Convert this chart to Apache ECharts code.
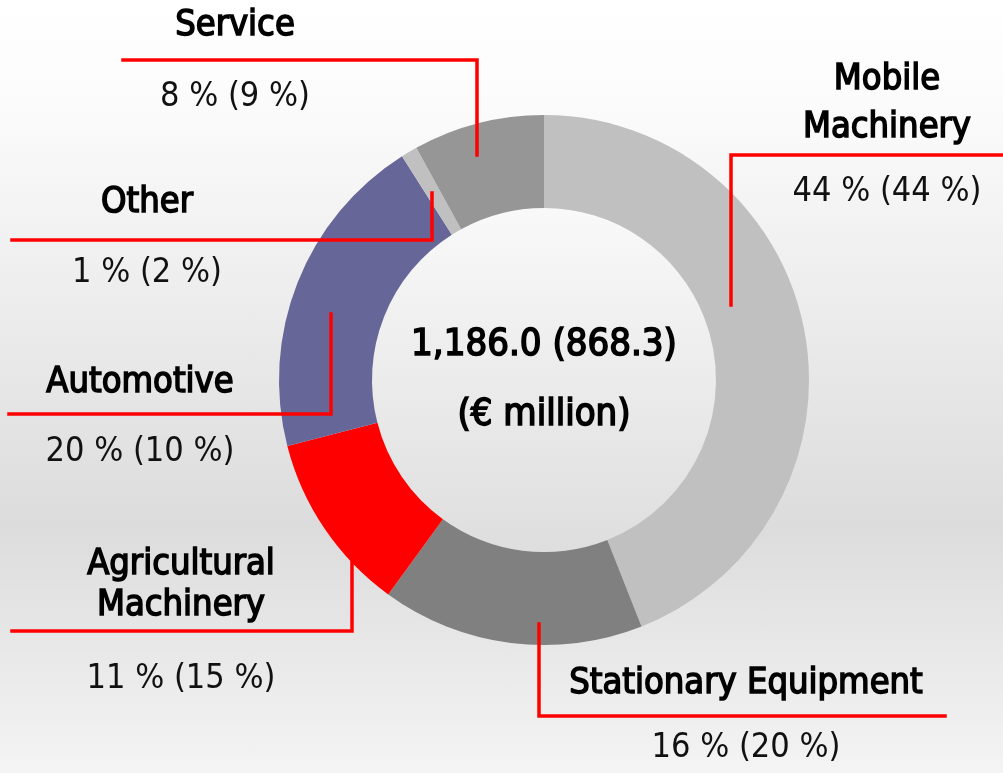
<!DOCTYPE html>
<html>
<head>
<meta charset="utf-8">
<script src="https://cdn.jsdelivr.net/npm/echarts@6/dist/echarts.min.js"></script>
<style>
  html, body { margin: 0; padding: 0; }
  #chart {
    width: 1003px; height: 773px;
    background: linear-gradient(to bottom, #ffffff 0%, #fbfbfb 14%, #dcdcdc 68%, #f4f4f4 100%);
  }
</style>
</head>
<body>
<div id="chart"></div>
<script>
// ---- data ----
const categories = ['Mobile Machinery', 'Stationary Equipment', 'Agricultural Machinery', 'Automotive', 'Other', 'Service'];
const nameLines = [['Mobile', 'Machinery'], ['Stationary Equipment'], ['Agricultural', 'Machinery'], ['Automotive'], ['Other'], ['Service']];
const shareCurrent = [44, 16, 11, 20, 1, 8];
const sharePrevious = [44, 20, 15, 10, 2, 9];
const totalCurrent = '1,186.0';
const totalPrevious = '868.3';
const unitLabel = '(€ million)';

// ---- styling / layout ----
const sliceColors = ['#c0c0c0', '#808080', '#ff0000', '#666699', '#c0c0c0', '#969696'];
const FONT = '"DejaVu Sans Condensed", "Liberation Sans Narrow", sans-serif';
const CX = 544, CY = 380, R_IN = 172, R_OUT = 265;
const NAME_FS = 36, VAL_FS = 34, CENTER_FS = 38;
// label block layout: text centre x, first name line centre y, name line height, value centre y, leader line points
const labelPos = [
  { tx: 887, ny: 80,  nlh: 48, vy: 192, pts: [[731, 305], [731, 155], [1003, 155]] },
  { tx: 746, ny: 684, nlh: 46, vy: 748, pts: [[539, 624], [539, 716], [945, 716]] },
  { tx: 181, ny: 565, nlh: 41, vy: 679, pts: [[352, 558], [352, 631], [12, 631]] },
  { tx: 140, ny: 383, nlh: 46, vy: 452, pts: [[331, 314], [331, 414], [9, 414]] },
  { tx: 147, ny: 203, nlh: 46, vy: 273, pts: [[432, 193], [432, 240], [12, 240]] },
  { tx: 235, ny: 26,  nlh: 46, vy: 97,  pts: [[477, 155], [477, 60], [123, 60]] }
];

const ringData = categories.map((c, i) => ({
  name: c,
  value: shareCurrent[i],
  itemStyle: { color: sliceColors[i] }
}));

// same slices, transparent, carrying the labels and leader lines so they sit above the ring
const labelData = categories.map((c, i) => {
  const L = labelPos[i];
  const lastNameY = L.ny + (nameLines[i].length - 1) * L.nlh;
  const vlh = 2 * (L.vy - lastNameY) - L.nlh;
  return {
    name: c,
    value: shareCurrent[i],
    itemStyle: { color: 'rgba(0,0,0,0)' },
    label: {
      formatter: nameLines[i].map(s => '{n|' + s + '}').join('\n') + '\n{v|' + shareCurrent[i] + ' % (' + sharePrevious[i] + ' %)}',
      rich: {
        n: { fontFamily: FONT, fontSize: NAME_FS, color: '#000', textBorderColor: '#000', textBorderWidth: 1.5, lineHeight: L.nlh, align: 'center' },
        v: { fontFamily: FONT, fontSize: VAL_FS, color: '#111', lineHeight: vlh, align: 'center' }
      }
    }
  };
});

const chart = echarts.init(document.getElementById('chart'), null, { renderer: 'canvas' });
chart.setOption({
  backgroundColor: 'transparent',
  animation: false,
  series: [
    {
      type: 'pie',
      silent: true,
      z: 1,
      center: [CX, CY],
      radius: [0, R_IN],
      startAngle: 90,
      labelLine: { show: false },
      label: {
        show: true,
        position: 'center',
        formatter: '{c|' + totalCurrent + ' (' + totalPrevious + ')}\n{c|' + unitLabel + '}',
        rich: {
          c: { fontFamily: FONT, fontSize: CENTER_FS, color: '#000', textBorderColor: '#000', textBorderWidth: 1.6, lineHeight: 70, align: 'center' }
        }
      },
      data: [{
        value: 1,
        name: 'total',
        itemStyle: {
          color: { type: 'linear', x: 0, y: 0, x2: 0, y2: 1,
            colorStops: [{ offset: 0, color: '#f9f9f9' }, { offset: 1, color: '#dedede' }] }
        }
      }]
    },
    {
      type: 'pie',
      silent: true,
      z: 1,
      center: [CX, CY],
      radius: [R_IN, R_OUT],
      startAngle: 90,
      clockwise: true,
      itemStyle: { borderWidth: 0 },
      label: { show: false },
      labelLine: { show: false },
      data: ringData
    },
    {
      type: 'pie',
      silent: true,
      z: 5,
      center: [CX, CY],
      radius: [R_IN, R_OUT],
      startAngle: 90,
      clockwise: true,
      avoidLabelOverlap: false,
      itemStyle: { borderWidth: 0 },
      label: { show: true, position: 'outside' },
      labelLine: { show: true, showAbove: true, smooth: false, lineStyle: { color: '#ff0000', width: 3.5, cap: 'square' } },
      labelLayout: function (params) {
        const L = labelPos[params.dataIndex];
        return {
          x: L.tx,
          y: L.ny - L.nlh / 2,
          align: 'center',
          verticalAlign: 'top',
          labelLinePoints: L.pts
        };
      },
      data: labelData
    }
  ]
});
</script>
</body>
</html>
